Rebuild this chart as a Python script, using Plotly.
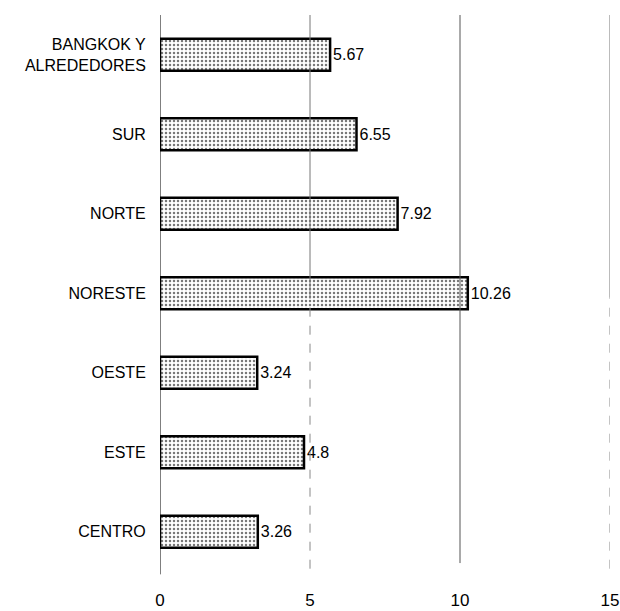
import plotly.graph_objects as go

# Regional values
regions = ["BANGKOK Y<br>ALREDEDORES", "SUR", "NORTE", "NORESTE", "OESTE", "ESTE", "CENTRO"]
values = [5.67, 6.55, 7.92, 10.26, 3.24, 4.8, 3.26]
value_labels = ["5.67", "6.55", "7.92", "10.26", "3.24", "4.8", "3.26"]
x_ticks = [0, 5, 10, 15]

FONT = "Liberation Sans, Arial, sans-serif"

fig = go.Figure()
fig.add_trace(go.Bar(
    y=regions,
    x=values,
    orientation="h",
    width=0.4,
    text=value_labels,
    textposition="outside",
    cliponaxis=False,
    textfont=dict(family=FONT, size=16, color="#000"),
    marker=dict(
        color="#ffffff",
        line=dict(color="#000000", width=2.5),
        pattern=dict(shape=".", fgcolor="#777777", bgcolor="#ffffff",
                     size=4, solidity=0.3, fillmode="replace"),
    ),
    showlegend=False,
))

# Vertical reference lines: solid in the upper part, dashed lower down
split = 0.5
for v in x_ticks[1:]:
    if v == 10:
        fig.add_shape(type="line", xref="x", yref="paper", x0=v, x1=v, y0=0.03, y1=1.0,
                      line=dict(color="#555555", width=1))
    else:
        fig.add_shape(type="line", xref="x", yref="paper", x0=v, x1=v, y0=split, y1=1.0,
                      line=dict(color="#777777", width=1))
        fig.add_shape(type="line", xref="x", yref="paper", x0=v, x1=v, y0=0.02, y1=split,
                      line=dict(color="#888888", width=1, dash="dash"))

# Axis line at zero
fig.add_shape(type="line", xref="x", yref="paper", x0=0, x1=0, y0=0.01, y1=1.0,
              line=dict(color="#000000", width=1))

fig.update_layout(
    width=620, height=611,
    margin=dict(l=160, r=10, t=15, b=31),
    paper_bgcolor="white", plot_bgcolor="white",
    bargap=0.6,
    xaxis=dict(range=[0, 15], tickvals=x_ticks, ticktext=[str(t) for t in x_ticks],
               showgrid=False, zeroline=False, showline=False,
               ticks="outside", ticklen=5, tickcolor="rgba(0,0,0,0)",
               tickfont=dict(family=FONT, size=17, color="#000"), automargin=False),
    yaxis=dict(range=[6.607, -0.5], showgrid=False, zeroline=False, showline=False,
               ticks="outside", ticklen=10, tickcolor="rgba(0,0,0,0)",
               tickfont=dict(family=FONT, size=16, color="#000"), automargin=False),
)

fig.write_html("out.html")
